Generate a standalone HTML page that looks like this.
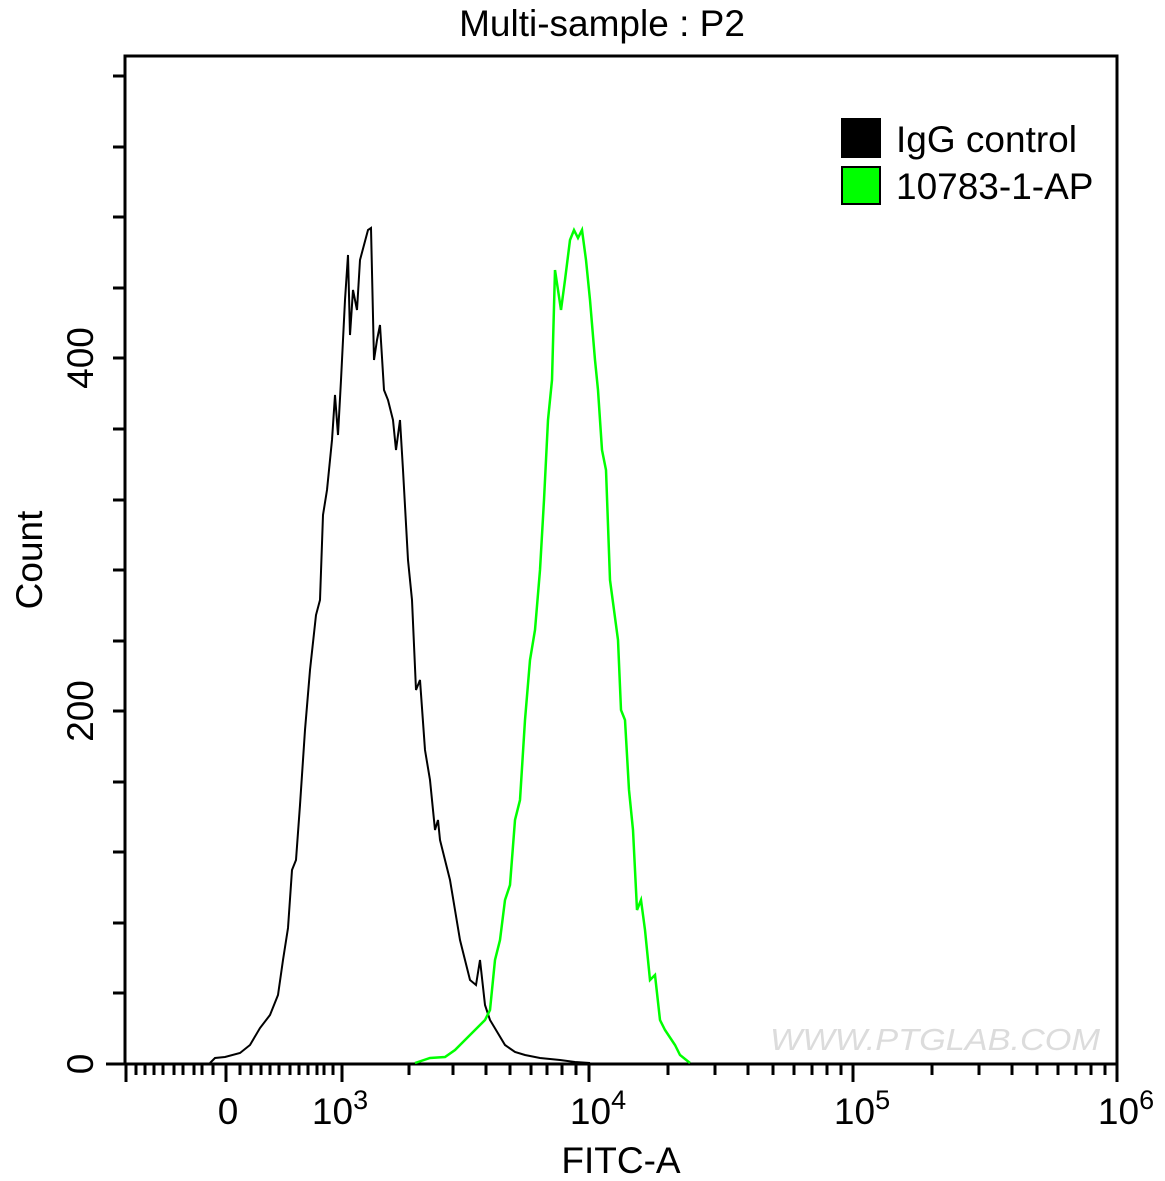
<!DOCTYPE html>
<html><head><meta charset="utf-8"><style>
html,body{margin:0;padding:0;background:#fff}
svg{display:block}
text{font-family:"Liberation Sans",Arial,sans-serif;fill:#000}
</style></head><body>
<svg width="1165" height="1181" viewBox="0 0 1165 1181" xmlns="http://www.w3.org/2000/svg">
<text x="602" y="36" font-size="37" text-anchor="middle">Multi-sample : P2</text>
<text x="770" y="1050" font-size="31" style="fill:#dcdcdc;font-style:italic" textLength="330" lengthAdjust="spacingAndGlyphs">WWW.PTGLAB.COM</text>
<rect x="125" y="56" width="992" height="1008" fill="none" stroke="#000" stroke-width="3"/>
<line x1="106" y1="1064" x2="1117" y2="1064" stroke="#000" stroke-width="3"/>
<g stroke="#000" stroke-width="3">
<path d="M113 1064H125M113 993H125M113 923H125M113 852H125M113 782H125M113 711H125M113 641H125M113 570H125M113 500H125M113 429H125M113 358H125M113 288H125M113 217H125M113 147H125M113 76H125"/>
</g>
<g font-size="37" text-anchor="middle">
<text transform="translate(93,1064) rotate(-90)">0</text>
<text transform="translate(93,711) rotate(-90)">200</text>
<text transform="translate(93,358) rotate(-90)">400</text>
<text transform="translate(42,560) rotate(-90)">Count</text>
</g>
<g stroke="#000" stroke-width="3">
<path d="M126 1064V1082M226 1064V1082M342 1064V1082M589 1064V1082M853 1064V1082M1117 1064V1082"/>
<path d="M136 1064V1075M145 1064V1075M154 1064V1075M163 1064V1075M174 1064V1075M183 1064V1075M194 1064V1075M202 1064V1075M213 1064V1075M240 1064V1075M251 1064V1075M261 1064V1075M270 1064V1075M279 1064V1075M290 1064V1075M299 1064V1075M308 1064V1075M317 1064V1075M324 1064V1075M333 1064V1075"/>
<path d="M409 1064V1075M453 1064V1075M486 1064V1075M510 1064V1075M531 1064V1075M547 1064V1075M562 1064V1075M576 1064V1075"/>
<path d="M668 1064V1075M715 1064V1075M748 1064V1075M773 1064V1075M794 1064V1075M812 1064V1075M827 1064V1075M841 1064V1075"/>
<path d="M932 1064V1075M979 1064V1075M1012 1064V1075M1037 1064V1075M1058 1064V1075M1076 1064V1075M1091 1064V1075M1105 1064V1075"/>
</g>
<g font-size="37" text-anchor="middle">
<text x="228" y="1124">0</text>
<text x="340" y="1124">10<tspan font-size="27" dy="-15">3</tspan></text>
<text x="598" y="1124">10<tspan font-size="27" dy="-15">4</tspan></text>
<text x="862" y="1124">10<tspan font-size="27" dy="-15">5</tspan></text>
<text x="1126" y="1124">10<tspan font-size="27" dy="-15">6</tspan></text>
<text x="621" y="1173">FITC-A</text>
</g>
<polyline fill="none" stroke="#000" stroke-width="2" points="210,1063 215,1058 225,1057 240,1053 250,1045 260,1028 270,1015 278,995 283,960 288,928 292,870 296,860 300,805 305,730 310,670 316,615 320,600 323,515 327,490 332,440 335,395 338,435 341,380 345,300 348,255 350,335 353,290 357,310 360,260 364,245 368,230 371,228 374,360 377,340 380,325 384,390 388,400 393,420 396,450 400,420 403,470 408,560 412,600 416,690 420,680 425,750 430,780 435,830 438,820 440,840 445,860 450,880 455,910 460,940 465,960 470,980 476,985 480,960 485,1005 490,1020 496,1030 505,1045 515,1052 525,1055 540,1058 560,1060 575,1062 590,1063"/>
<polyline fill="none" stroke="#00ff00" stroke-width="2.5" points="415,1063 430,1058 445,1057 455,1050 465,1040 475,1030 485,1020 490,1010 495,960 500,940 505,900 510,885 515,820 520,800 525,720 530,660 535,630 540,570 544,500 548,420 552,380 555,270 558,290 561,310 565,280 570,240 574,230 578,238 582,230 586,260 590,300 595,360 598,390 602,450 606,470 610,580 614,610 618,640 621,710 625,720 629,790 633,830 637,910 641,900 645,930 650,980 655,975 660,1020 665,1030 675,1045 680,1055 690,1063"/>
<rect x="842" y="119" width="38" height="38" fill="#000" stroke="#000" stroke-width="2"/>
<rect x="842" y="167" width="38" height="37" fill="#00ff00" stroke="#000" stroke-width="2"/>
<text x="896" y="152" font-size="37">IgG control</text>
<text x="896" y="199" font-size="37">10783-1-AP</text>
</svg>
</body></html>
